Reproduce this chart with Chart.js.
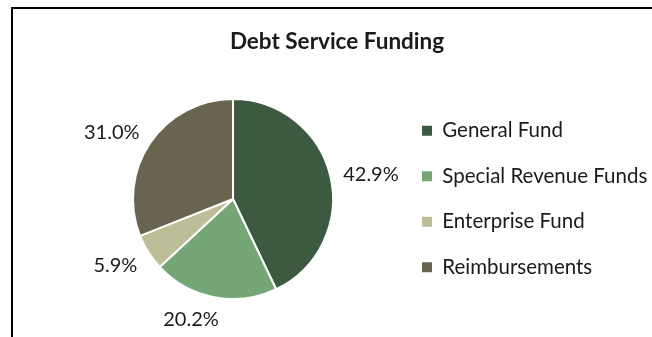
<!DOCTYPE html>
<html>
<head>
<meta charset="utf-8">
<script src="https://cdn.jsdelivr.net/npm/chart.js@4"></script>
<style>
  html, body { margin: 0; padding: 0; background: #fff; }
  #wrap { position: relative; width: 652px; height: 337px; overflow: hidden; }
  #frame { position: absolute; left: 11px; top: 7px; right: 0; bottom: 0;
           border-left: 2px solid #000; border-top: 2px solid #000; }
  #chart { position: absolute; left: 0; top: 0; }
</style>
</head>
<body>
<div id="wrap">
  <div id="frame"></div>
  <canvas id="chart" width="652" height="337"></canvas>
</div>
<script>
const chartTitle = "Debt Service Funding";
const fundSources = ["General Fund", "Special Revenue Funds", "Enterprise Fund", "Reimbursements"];
const fundShares = [42.9, 20.2, 5.9, 31.0];
const sliceColors = ["#3b5a3f", "#74a676", "#bdbe98", "#686450"];

const FONT = "Lato, 'Open Sans', sans-serif";
const TEXT_COLOR = "#1a1a1a";

// chart title, centred over the whole frame rather than the plot area
const frameTitle = {
    id: "frameTitle",
    afterDraw(chart) {
        const ctx = chart.ctx;
        ctx.save();
        ctx.font = `bold 22.5px ${FONT}`;
        ctx.fillStyle = TEXT_COLOR;
        ctx.textAlign = "center";
        ctx.textBaseline = "middle";
        ctx.fillText(chartTitle, 337, 42);
        ctx.restore();
    }
};

// percentage labels just outside each slice
const outsideLabels = {
    id: "outsideLabels",
    afterDatasetsDraw(chart) {
        const ctx = chart.ctx;
        const values = chart.data.datasets[0].data;
        const total = values.reduce((a, b) => a + b, 0);
        ctx.save();
        ctx.font = `20px ${FONT}`;
        ctx.fillStyle = TEXT_COLOR;
        ctx.textAlign = "center";
        ctx.textBaseline = "middle";
        chart.getDatasetMeta(0).data.forEach((arc, i) => {
            const { x, y, startAngle, endAngle, outerRadius } =
                arc.getProps(["x", "y", "startAngle", "endAngle", "outerRadius"], true);
            const mid = (startAngle + endAngle) / 2;
            const cos = Math.cos(mid);
            const sin = Math.sin(mid);
            const text = (values[i] / total * 100).toFixed(1) + "%";
            const w = ctx.measureText(text).width;
            const r = outerRadius + 13;
            // push the text box sideways so it clears the rim
            const side = Math.sign(cos) * Math.min(1, 4 * Math.abs(cos));
            ctx.fillText(text,
                x + cos * r + side * w / 2,
                y + sin * (r + 8) + 2);
        });
        ctx.restore();
    }
};

new Chart(document.getElementById("chart"), {
    type: "pie",
    data: {
        labels: fundSources,
        datasets: [{
            data: fundShares,
            backgroundColor: sliceColors,
            borderColor: "#ffffff",
            borderWidth: 2
        }]
    },
    options: {
        responsive: false,
        animation: false,
        radius: 100,
        layout: { padding: { left: 69, right: 0, top: 61, bottom: 0 } },
        plugins: {
            title: { display: false },
            tooltip: { enabled: false },
            legend: {
                position: "right",
                align: "center",
                maxWidth: 255,
                labels: {
                    boxWidth: 10,
                    boxHeight: 10,
                    padding: 25,
                    color: TEXT_COLOR,
                    font: { family: FONT, size: 20.5 },
                    generateLabels(chart) {
                        const items = Chart.overrides.pie.plugins.legend.labels.generateLabels(chart);
                        return items.map(item => ({ ...item, lineWidth: 0 }));
                    }
                }
            }
        }
    },
    plugins: [outsideLabels, frameTitle]
});
</script>
</body>
</html>
